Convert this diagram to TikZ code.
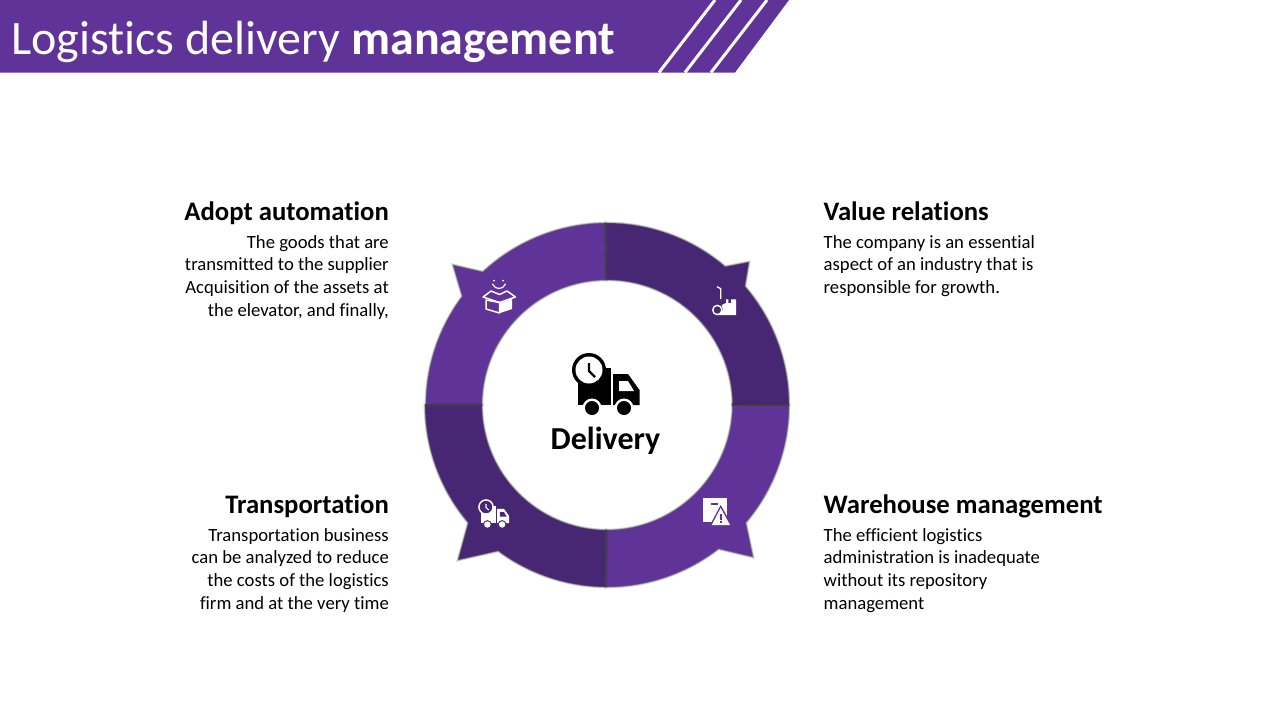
\documentclass[tikz,border=0pt]{standalone}
\usepackage{fontspec}
\setmainfont[Ligatures=NoCommon]{Carlito}
\usepackage{xcolor}
\usepackage{tikz}
\usetikzlibrary{
	positioning
}
\definecolor{segLight}{HTML}{5F3398}
\definecolor{segDark}{HTML}{472773}

\tikzset{
	segGlow/.style={preaction={draw=black,draw opacity=.18,line width=2.6pt}},
	segLt/.style={segGlow,fill=segLight,draw=black!55,draw opacity=.6,line width=.9pt,line join=miter},
	segDk/.style={segGlow,fill=segDark,draw=black!55,draw opacity=.6,line width=.9pt,line join=miter},
	divider/.style={draw=black!75,line width=1.6pt},
	stripe/.style={draw=white,line width=3pt},
	head/.style={font=\fontsize{26.7}{32}\selectfont\bfseries,inner sep=0pt,text depth=7pt},
	bodyL/.style={font=\fontsize{18.67}{22.6}\selectfont,inner sep=0pt,align=left},
	bodyR/.style={font=\fontsize{18.67}{22.6}\selectfont,inner sep=0pt,align=right}
}

% truck icon: #1 clock centre, #2 scale, #3 truck colour, #4 detail colour
\newcommand{\truckicon}[4]{
	\begin{scope}[shift={#1},scale=#2]
		\fill[#3] (-11,2) rectangle (22,-35);
		\fill[#3] (24,-4) -- (39,-4) -- (50.5,-20) -- (50.5,-35) -- (24,-35) -- cycle;
		\fill[#4] (30,-11) -- (39,-11) -- (45,-21) -- (30,-21) -- cycle;
		\fill[#3] (0,0) circle (17);
		\fill[#4] (0,0) circle (13.5);
		\draw[#3,line width=2.2*#2pt] (0,7) -- (0,-1) -- (6,-7);
		\fill[#4] (3,-38) circle (9.5);
		\fill[#4] (35,-38) circle (9.5);
		\fill[#3] (3,-38) circle (7);
		\fill[#3] (35,-38) circle (7);
	\end{scope}
}

\begin{document}
\begin{tikzpicture}[x=1pt,y=1pt]
		\useasboundingbox (0,-720) rectangle (1280,0);

		% banner
		\fill[segLight] (0,0) -- (789,0) -- (735,-72.5) -- (0,-72.5) -- cycle;
		\draw[stripe] (715,0) -- (659,-72.5);
		\draw[stripe] (741,0) -- (685,-72.5);
		\draw[stripe] (767,0) -- (711,-72.5);
		\node[anchor=base west,inner sep=0pt,text=white,font=\fontsize{48}{56}\selectfont] (title)
			at (11,-54) {Logistics delivery \textbf{management}};

		% ring
		\begin{scope}[shift={(607,-405)}]
			\draw[segLt] (90.4:182) arc (90.4:133:182) -- (-154,140) -- (143.1:181) arc (143.1:180:181.5)
				-- (180:125) arc (180:90.4:125) -- cycle;
			\draw[segDk] (90.4:182) arc (90.4:49.5:182) -- (142,143) -- (40.7:182) arc (40.7:0:182)
				-- (0:125.5) arc (0:90.4:125) -- cycle;
			\draw[segLt] (0:182) arc (0:-40.3:182) -- (146,-152) -- (-52.2:182) arc (-52.2:-90.4:182)
				-- (-90.4:125) arc (-90.4:0:125.5) -- cycle;
			\draw[segDk] (-90.4:182) arc (-90.4:-126.7:182) -- (-149,-155) -- (-139.7:182) arc (-139.7:-180:182)
				-- (180:125) arc (180:269.6:125) -- cycle;
			\draw[divider] (90.4:125) -- (90.4:182);
			\draw[divider] (0:125) -- (0:182);
			\draw[divider] (-90.4:125) -- (-90.4:182);
			\draw[divider] (180:125) -- (180:182);
		\end{scope}

		% centre
		\truckicon{(589,-370)}{1}{black}{white}
		\node[font=\fontsize{32}{38}\selectfont\bfseries,anchor=base,inner sep=0pt] (delivery) at (605.5,-449) {Delivery};

		% box icon
		\draw[white,line width=1.2pt,line cap=round] (492.5,-284) .. controls (495,-290) and (503,-290) .. (505.5,-284);
		\fill[white] (494,-280.7) circle (1) (503,-280.7) circle (1);
		\draw[white,line width=1.5pt,line join=round] (486,-300) -- (486,-309) -- (499.5,-313) -- (499.5,-302.5) -- cycle;
		\fill[white] (500,-303) -- (512,-299) -- (512,-309) -- (500,-313) -- cycle;
		\draw[white,line width=1.5pt,line join=round] (499.5,-302.5) -- (483,-297) -- (491,-291) -- (499.5,-294.5) -- (507,-291) -- (515.5,-297) -- cycle;

		% hand truck icon
		\draw[white,line width=1.3pt] (717,-286.7) -- (720.7,-288.7) -- (720.7,-299);
		\draw[white,line width=1.4pt] (717.3,-310) circle (4.6);
		\fill[white] (721.7,-305) -- (726,-303) -- (726,-299.3) -- (728.4,-299.3) -- (728.4,-303) -- (731,-303) -- (731,-299.3)
			-- (736,-299.3) -- (736,-315) -- (718,-315) -- (723,-310) -- cycle;

		% warning icon
		\fill[white] (702.7,-498.3) rectangle (726.7,-521.7);
		\fill[segLight] (710.7,-502.7) rectangle (718.3,-505);
		\fill[segLight] (720.7,-505) -- (709,-527) -- (733,-527) -- cycle;
		\fill[white] (720.7,-508) -- (711.7,-525) -- (730,-525) -- cycle;
		\fill[segLight] (719.8,-514) rectangle (721.6,-519.5);
		\fill[segLight] (719.8,-521) rectangle (721.6,-523);

		% small truck icon
		\truckicon{(486,-507)}{.46}{white}{segDark}

		% left texts
		\node[head,anchor=base east] (adopt) at (389,-220) {Adopt automation};
		\node[bodyR,below=8pt of adopt.south east,anchor=north east] (adoptTxt)
			{The goods that are\\transmitted to the supplier\\Acquisition of the assets at\\the elevator, and finally,};
		\node[head,anchor=base east] (transport) at (389,-513) {Transportation};
		\node[bodyR,below=8pt of transport.south east,anchor=north east] (transportTxt)
			{Transportation business\\can be analyzed to reduce\\the costs of the logistics\\firm and at the very time};

		% right texts
		\node[head,anchor=base west] (value) at (823.5,-220) {Value relations};
		\node[bodyL,below=8pt of value.south west,anchor=north west] (valueTxt)
			{The company is an essential\\aspect of an industry that is\\responsible for growth.};
		\node[head,anchor=base west] (warehouse) at (823.5,-513) {Warehouse management};
		\node[bodyL,below=8pt of warehouse.south west,anchor=north west] (warehouseTxt)
			{The efficient logistics\\administration is inadequate\\without its repository\\management};
\end{tikzpicture}
\end{document}
